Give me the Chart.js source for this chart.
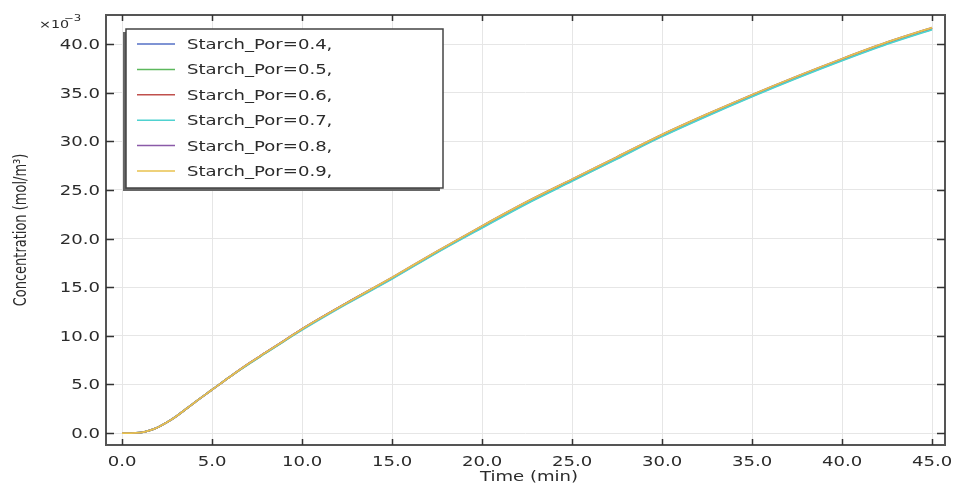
<!DOCTYPE html>
<html>
<head>
<meta charset="utf-8">
<script src="https://cdn.jsdelivr.net/npm/chart.js@4.4.1/dist/chart.umd.min.js"></script>
<style>
  html, body { margin: 0; padding: 0; background: #fff; }
  #chart { display: block; }
</style>
</head>
<body>
<canvas id="chart" width="954" height="486"></canvas>
<script>
// time axis (min) and concentration (x10^-3 mol/m^3)
const timeMin = [0, 0.5, 1, 1.5, 2, 2.5, 3, 3.5, 4, 5, 6, 7, 8, 9, 10, 12.5, 15, 17.5, 20, 22.5, 25, 27.5, 30, 32.5, 35, 37.5, 40, 42.5, 45];

const por04 = [0, 0, 0.05, 0.25, 0.6, 1.1, 1.7, 2.4, 3.1, 4.45, 5.8, 7.1, 8.3, 9.5, 10.7, 13.4, 15.95, 18.65, 21.25, 23.75, 26.05, 28.35, 30.65, 32.75, 34.75, 36.65, 38.45, 40.15, 41.65];
const por05 = [0, 0, 0.05, 0.25, 0.6, 1.1, 1.7, 2.4, 3.1, 4.45, 5.8, 7.05, 8.25, 9.45, 10.65, 13.35, 15.9, 18.6, 21.15, 23.65, 25.95, 28.25, 30.55, 32.65, 34.65, 36.55, 38.35, 40.05, 41.55];
const por06 = [0, 0, 0.05, 0.25, 0.6, 1.1, 1.7, 2.4, 3.1, 4.45, 5.8, 7.1, 8.3, 9.5, 10.7, 13.4, 15.95, 18.65, 21.25, 23.75, 26.05, 28.35, 30.65, 32.75, 34.75, 36.65, 38.45, 40.15, 41.65];
const por07 = [0, 0, 0.05, 0.25, 0.6, 1.1, 1.7, 2.4, 3.1, 4.45, 5.8, 7.05, 8.25, 9.45, 10.6, 13.3, 15.85, 18.55, 21.1, 23.6, 25.9, 28.2, 30.5, 32.6, 34.6, 36.5, 38.3, 40.0, 41.5];
const por08 = [0, 0, 0.05, 0.25, 0.6, 1.1, 1.7, 2.4, 3.1, 4.45, 5.8, 7.1, 8.3, 9.5, 10.7, 13.4, 16.0, 18.7, 21.3, 23.8, 26.1, 28.4, 30.7, 32.8, 34.8, 36.7, 38.5, 40.2, 41.7];
const por09 = [0, 0, 0.05, 0.25, 0.6, 1.1, 1.7, 2.4, 3.1, 4.45, 5.8, 7.1, 8.3, 9.5, 10.7, 13.4, 16.0, 18.7, 21.3, 23.8, 26.1, 28.4, 30.7, 32.8, 34.8, 36.7, 38.5, 40.2, 41.7];

const seriesLabels = ["Starch_Por=0.4,", "Starch_Por=0.5,", "Starch_Por=0.6,", "Starch_Por=0.7,", "Starch_Por=0.8,", "Starch_Por=0.9,"];
const seriesValues = [por04, por05, por06, por07, por08, por09];
const seriesColors = ["#5470c6", "#5cb85c", "#c0504d", "#4fd2d0", "#8a5aa8", "#e8c24e"];

const xTicks = [0, 5, 10, 15, 20, 25, 30, 35, 40, 45];
const yTicks = [0, 5, 10, 15, 20, 25, 30, 35, 40];

const FONT = "'DejaVu Sans', sans-serif";
const TEXT = "#2b2b2b";
const SX = 1.29; // reference text is stretched horizontally

function stretchedText(ctx, txt, x, y, align, size, sx) {
  ctx.save();
  ctx.translate(x, y);
  ctx.scale(sx, 1);
  ctx.font = `${size}px ${FONT}`;
  ctx.textAlign = align;
  ctx.textBaseline = "alphabetic";
  ctx.fillText(txt, 0, 0);
  ctx.restore();
}

// frame, inward ticks, tick labels, axis titles and boxed legend
const decorations = {
  id: "decorations",
  afterDraw(chart) {
    const { ctx, chartArea: a, scales: { x, y } } = chart;
    ctx.save();

    // frame
    ctx.strokeStyle = "#555";
    ctx.lineWidth = 2;
    ctx.strokeRect(a.left, a.top, a.right - a.left, a.bottom - a.top);

    // ticks
    ctx.strokeStyle = "#333";
    ctx.lineWidth = 1.5;
    ctx.beginPath();
    xTicks.forEach(v => {
      const px = Math.round(x.getPixelForValue(v)) + 0.5;
      ctx.moveTo(px, a.bottom); ctx.lineTo(px, a.bottom - 6);
      ctx.moveTo(px, a.top); ctx.lineTo(px, a.top + 6);
    });
    yTicks.forEach(v => {
      const py = Math.round(y.getPixelForValue(v)) + 0.5;
      ctx.moveTo(a.left, py); ctx.lineTo(a.left + 8, py);
      ctx.moveTo(a.right, py); ctx.lineTo(a.right - 8, py);
    });
    ctx.stroke();

    // tick labels
    ctx.fillStyle = TEXT;
    xTicks.forEach(v => stretchedText(ctx, v.toFixed(1), x.getPixelForValue(v), 466, "center", 14, SX));
    yTicks.forEach(v => stretchedText(ctx, v.toFixed(1), a.left - 6, y.getPixelForValue(v) + 5, "right", 14, SX));

    // exponent
    stretchedText(ctx, "\u00d710", 39, 28, "left", 11, 1.3);
    stretchedText(ctx, "\u22123", 64, 21, "left", 9, 1.3);

    // axis titles
    stretchedText(ctx, "Time (min)", 529, 481, "center", 14, SX);
    ctx.save();
    ctx.translate(26, (a.top + a.bottom) / 2);
    ctx.scale(SX, 1);
    ctx.rotate(-Math.PI / 2);
    ctx.font = `13px ${FONT}`;
    ctx.textAlign = "center";
    ctx.textBaseline = "alphabetic";
    ctx.fillText("Concentration (mol/m\u00b3)", 0, 0);
    ctx.restore();

    // legend box with shadow
    const lx = 126, ly = 29, lw = 317, lh = 159;
    ctx.fillStyle = "#666";
    ctx.fillRect(lx - 3, ly + 3, lw, lh);
    ctx.fillStyle = "#fff";
    ctx.fillRect(lx, ly, lw, lh);
    ctx.strokeStyle = "#444";
    ctx.lineWidth = 1.5;
    ctx.strokeRect(lx, ly, lw, lh);

    chart.data.datasets.forEach((ds, i) => {
      const ry = 44 + i * 25.4;
      ctx.strokeStyle = ds.borderColor;
      ctx.lineWidth = 1.5;
      ctx.beginPath();
      ctx.moveTo(137, ry); ctx.lineTo(175, ry);
      ctx.stroke();
      ctx.fillStyle = TEXT;
      stretchedText(ctx, ds.label, 187, ry + 5, "left", 14, SX);
    });

    ctx.restore();
  }
};

new Chart(document.getElementById("chart"), {
  type: "line",
  data: {
    datasets: seriesLabels.map((label, i) => ({
      label,
      data: timeMin.map((t, j) => ({ x: t, y: seriesValues[i][j] })),
      borderColor: seriesColors[i],
      borderWidth: 1.8,
      pointRadius: 0,
      cubicInterpolationMode: "monotone",
      fill: false,
      order: seriesLabels.length - i
    }))
  },
  options: {
    responsive: false,
    devicePixelRatio: 1,
    animation: false,
    layout: { padding: { left: 0, top: 15, right: 9, bottom: 0 } },
    plugins: { legend: { display: false }, tooltip: { enabled: false } },
    scales: {
      x: {
        type: "linear",
        min: -0.89,
        max: 45.72,
        afterBuildTicks: s => { s.ticks = xTicks.map(v => ({ value: v })); },
        afterFit: s => { s.height = 41; },
        ticks: { display: false },
        grid: { color: "#e6e6e6", lineWidth: 1, drawTicks: false },
        border: { display: false }
      },
      y: {
        min: -1.23,
        max: 43.0,
        afterBuildTicks: s => { s.ticks = yTicks.map(v => ({ value: v })); },
        afterFit: s => { s.width = 106; },
        ticks: { display: false },
        grid: { color: "#e6e6e6", lineWidth: 1, drawTicks: false },
        border: { display: false }
      }
    }
  },
  plugins: [decorations]
});
</script>
</body>
</html>
